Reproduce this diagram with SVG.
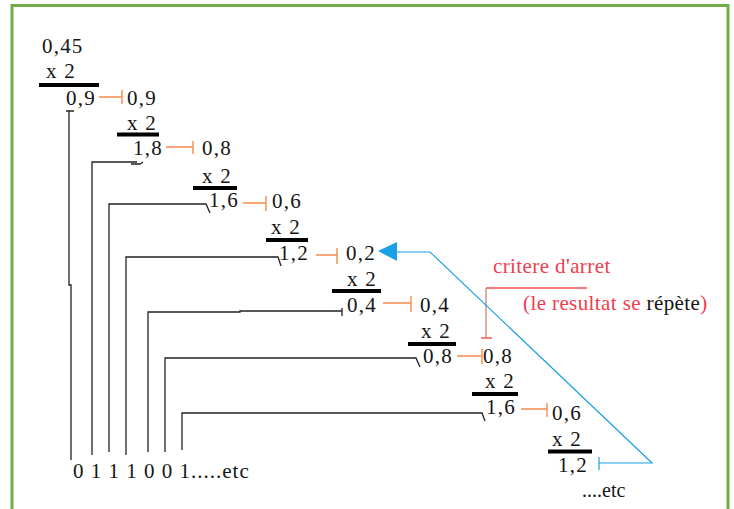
<svg xmlns="http://www.w3.org/2000/svg" width="734" height="509" viewBox="0 0 734 509" font-family="'Liberation Serif', 'DejaVu Serif', serif">
<style>
text{font-family:'Liberation Serif','DejaVu Serif',serif;font-size:21px;fill:#151515;letter-spacing:1.2px}
.red{fill:#f03c4c;letter-spacing:0.4px}
.bar{fill:#000}
.blk{stroke:#222;stroke-width:1.3;fill:none}
.org{stroke:#f58b4c;stroke-width:1.4;fill:none}
.blu{stroke:#1aa0e6;stroke-width:1.2;fill:none}
</style>
<rect width="734" height="509" fill="#fff"/>
<path d="M12,509 V5.5 H728 V509" fill="none" stroke="#70ad47" stroke-width="3"/>

<g id="step1">
<text x="42" y="53">0,45</text>
<text x="46" y="78">x  2</text>
<rect class="bar" x="39" y="83" width="60" height="4"/>
<text x="66" y="105">0,9</text>
<text x="127" y="105">0,9</text>
</g>
<g id="step2">
<text x="127" y="130">x 2</text>
<rect class="bar" x="117" y="132.5" width="42" height="4"/>
<text x="133" y="155">1,8</text>
<text x="202" y="155">0,8</text>
</g>
<g id="step3">
<text x="202" y="183">x 2</text>
<rect class="bar" x="193" y="186" width="44" height="4"/>
<text x="209" y="207">1,6</text>
<text x="272" y="208">0,6</text>
</g>
<g id="step4">
<text x="271" y="234">x 2</text>
<rect class="bar" x="266" y="238" width="42" height="4"/>
<text x="279" y="260">1,2</text>
<text x="346" y="260">0,2</text>
</g>
<g id="step5">
<text x="347" y="286">x 2</text>
<rect class="bar" x="332" y="289" width="49" height="4"/>
<text x="347" y="312">0,4</text>
<text x="420" y="312">0,4</text>
</g>
<g id="step6">
<text x="421" y="338">x 2</text>
<rect class="bar" x="408" y="342" width="48" height="4"/>
<text x="423" y="363">0,8</text>
<text x="483" y="363">0,8</text>
</g>
<g id="step7">
<text x="485" y="388">x 2</text>
<rect class="bar" x="472" y="392" width="46" height="4"/>
<text x="486" y="414">1,6</text>
<text x="552" y="420">0,6</text>
</g>
<g id="step8">
<text x="552" y="446">x 2</text>
<rect class="bar" x="548" y="449.5" width="44" height="4"/>
<text x="558" y="472">1,2</text>
<text x="582" y="497" style="font-size:20px;letter-spacing:0px">....etc</text>
</g>
<g id="result">
<text x="73" y="478" style="letter-spacing:1px">0 1 1 1 0 0 1.....etc</text>
</g>
<g id="critere">
<text class="red" x="493" y="273">critere d'arret</text>
<text class="red" x="523" y="310">(le resultat se <tspan fill="#151515">répète</tspan>)</text>
</g>

<g id="connectors">
<path class="org" d="M99,97 H122 M122,90 V104"/>
<path class="org" d="M166,147 H193 M193,141 V154"/>
<path class="org" d="M243,203 H266 M266,196 V211"/>
<path class="org" d="M316,255 H337 M337,248 V264"/>
<path class="org" d="M383,303 H411 M411,296 V312"/>
<path class="org" d="M457,356 H482 M482,349 V364"/>
<path class="org" d="M521,409 H547 M547,403 V417"/>
<path class="blk" d="M66,111 H74 M69,111 V285 H71 V460"/>
<path class="blk" d="M92,455 V162 H137 M131,164 H140 L143,162"/>
<path class="blk" d="M109,452 V204 H206 L210,213"/>
<path class="blk" d="M126,455 V257 H278 L281,266"/>
<path class="blk" d="M148,452 V312 H240 V311 H342 M342,308 V316"/>
<path class="blk" d="M165,452 V358 H416 L420,367"/>
<path class="blk" d="M182,450 V413 H482 L485,421"/>
<path d="M486,288 H587" stroke="#f04c55" stroke-width="1.4" fill="none"/>
<path d="M486,288 V338" stroke="#c8907c" stroke-width="1.4" fill="none"/>
<path d="M481,338 H492" stroke="#f04c55" stroke-width="1.4" fill="none"/>
<path class="blu" d="M599,463 H652 L430,252 H395 M599,457 V470"/>
<polygon points="378,251 397,242 397,261" fill="#1aa0e6"/>
</g>
</svg>
